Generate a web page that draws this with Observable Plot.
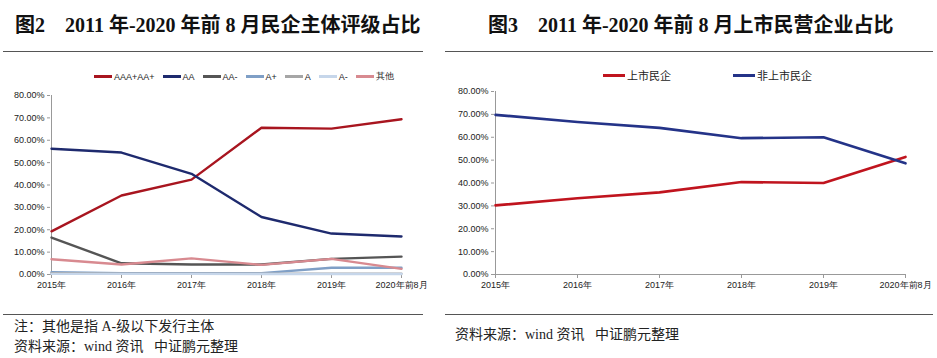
<!DOCTYPE html>
<html><head><meta charset="utf-8">
<script src="https://cdn.jsdelivr.net/npm/d3@7"></script>
<script src="https://cdn.jsdelivr.net/npm/@observablehq/plot@0.6"></script>
<style>
body{margin:0;background:#fff;width:937px;height:358px;position:relative;overflow:hidden;font-family:"Noto Sans CJK SC",sans-serif;}
.abs{position:absolute;}
.title{font-family:"Liberation Serif","Noto Sans CJK SC",serif;font-weight:bold;font-size:20px;color:#111;white-space:pre;}
.rule{height:0;border-top:1.5px solid #555;}
.note{font-family:"Liberation Serif","Noto Sans CJK SC",serif;font-size:14px;color:#222;white-space:pre;}
.leg{font-family:"Liberation Sans Narrow","Liberation Sans",sans-serif;font-size:9px;color:#222;display:flex;align-items:center;white-space:pre;}
.leg span.sw{display:inline-block;width:18px;height:2.5px;margin-right:2px;}
.leg span.it{display:inline-flex;align-items:center;}
</style></head>
<body>
<script>
const years = ["2015年","2016年","2017年","2018年","2019年","2020年前8月"];
// Figure 2 series (shares)
const ratingNames = ["AAA+AA+","AA","AA-","A+","A","A-","其他"];
const ratingColors = ["#A8151F","#1E2A6E","#555555","#7F9FC6","#A6A6A6","#C6D6EA","#D88A90"];
const sAAA = [0.193,0.353,0.424,0.656,0.652,0.694];
const sAA  = [0.562,0.545,0.450,0.257,0.183,0.170];
const sAAm = [0.165,0.050,0.045,0.045,0.070,0.080];
const sAp  = [0.010,0.006,0.006,0.006,0.030,0.030];
const sA   = [0.006,0.004,0.004,0.004,0.004,0.004];
const sAm  = [0.003,0.003,0.003,0.002,0.002,0.002];
const sOther=[0.068,0.045,0.072,0.043,0.070,0.025];
// Figure 3 series
const listedNames = ["上市民企","非上市民企"];
const listedColors = ["#C0141E","#243388"];
const sListed   = [0.302,0.333,0.359,0.404,0.400,0.514];
const sUnlisted = [0.698,0.667,0.641,0.596,0.600,0.486];
const yTicks = [0,0.1,0.2,0.3,0.4,0.5,0.6,0.7,0.8];

function tidy(names, arrs){
  const out=[];
  names.forEach((n,i)=>arrs[i].forEach((v,j)=>out.push({series:n,year:years[j],value:v})));
  return out;
}
const fmt = d => (d*100).toFixed(2)+"%";
const FONT = '"Liberation Sans Narrow","Liberation Sans",sans-serif';

function makeChart(data, names, colors, w, ml, mr, mt, mb, sw){
  return Plot.plot({
    width:w, height:220, marginLeft:ml, marginRight:mr, marginTop:mt, marginBottom:mb,
    style:{fontFamily:FONT,fontSize:"9px",color:"#222",background:"transparent"},
    x:{type:"point",domain:years,padding:0,label:null},
    y:{domain:[0,0.8],label:null},
    color:{domain:names,range:colors},
    marks:[
      Plot.ruleX([years[0]],{y1:0,y2:0.8,stroke:"#999",strokeWidth:1}),
      Plot.ruleY([0],{stroke:"#999",strokeWidth:1}),
      Plot.axisY({ticks:yTicks,tickFormat:fmt,tickSize:3,stroke:"#999",tickPadding:3,label:null,fontSize:9}),
      Plot.axisX({tickSize:4,stroke:"#999",tickPadding:3,label:null,fontSize:9}),
      Plot.line(data,{x:"year",y:"value",z:"series",stroke:"series",strokeWidth:sw,curve:"linear"})
    ]
  });
}

function place(el,left,top){el.classList.add("abs");el.style.left=left+"px";el.style.top=top+"px";document.body.appendChild(el);return el;}
function div(cls,text,left,top,extra){const d=document.createElement("div");d.className=cls;if(text!=null)d.textContent=text;if(extra)Object.assign(d.style,extra);return place(d,left,top);}

// Left panel
div("title","图2    2011 年-2020 年前 8 月民企主体评级占比",15,9);
div("rule",null,3,51,{width:"420px"});
const legL = div("leg",null,94,70);
ratingNames.forEach((n,i)=>{
  const it=document.createElement("span");it.className="it";it.style.marginRight="8px";
  const s=document.createElement("span");s.className="sw";s.style.background=ratingColors[i];
  it.appendChild(s);it.appendChild(document.createTextNode(n));legL.appendChild(it);
});
const left = makeChart(tidy(ratingNames,[sAAA,sAA,sAAm,sAp,sA,sAm,sOther]), ratingNames, ratingColors, 430, 50, 29, 10, 31, 2.4);
place(left,0,85);
div("rule",null,3,314,{width:"420px"});
div("note","注：其他是指 A-级以下发行主体",14,315);
div("note","资料来源：wind 资讯   中证鹏元整理",14,335);

// Right panel
div("title","图3    2011 年-2020 年前 8 月上市民营企业占比",488,9);
div("rule",null,445,51,{width:"488px"});
const legR = div("leg",null,603,67,{fontSize:"11px",fontFamily:'"Noto Sans CJK SC",sans-serif'});
listedNames.forEach((n,i)=>{
  const it=document.createElement("span");it.className="it";it.style.marginRight=i===0?"62px":"0";
  const s=document.createElement("span");s.className="sw";s.style.background=listedColors[i];s.style.width="22px";s.style.height="3px";
  it.appendChild(s);it.appendChild(document.createTextNode(n));legR.appendChild(it);
});
const right = makeChart(tidy(listedNames,[sListed,sUnlisted]), listedNames, listedColors, 492, 49, 31, 6, 31, 2.6);
place(right,445,85);
div("rule",null,445,314,{width:"488px"});
div("note","资料来源：wind 资讯   中证鹏元整理",455,323);
</script>
</body></html>
